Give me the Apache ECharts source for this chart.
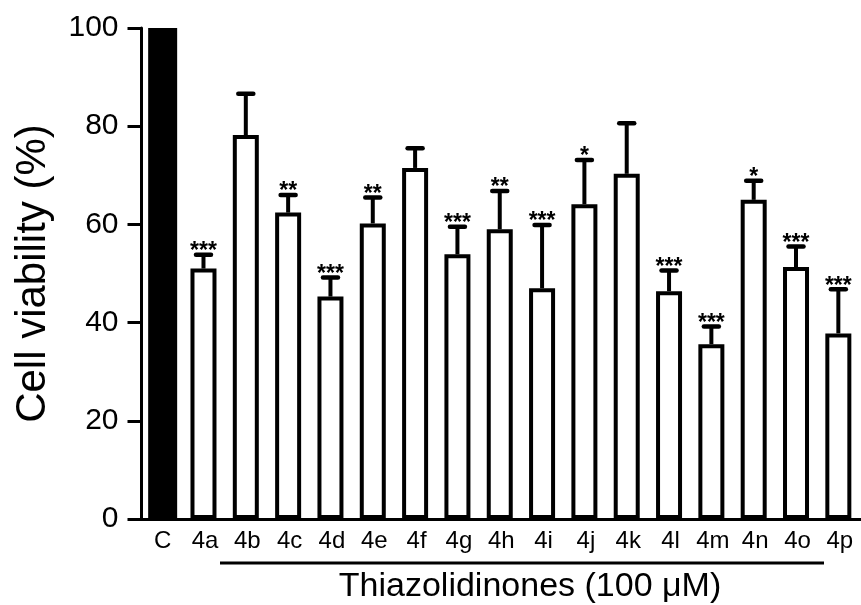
<!DOCTYPE html>
<html>
<head>
<meta charset="utf-8">
<script src="https://cdn.jsdelivr.net/npm/echarts@6/dist/echarts.min.js"></script>
<style>
  html, body { margin: 0; padding: 0; background: #fff; }
  #main { width: 861px; height: 605px; }
</style>
</head>
<body>
<div id="main"></div>
<script>
var categories = ['C', '4a', '4b', '4c', '4d', '4e', '4f', '4g', '4h', '4i', '4j', '4k', '4l', '4m', '4n', '4o', '4p'];
var viability = [100, 51.0, 78.2, 62.4, 45.3, 60.2, 71.5, 53.9, 59.0, 47.0, 64.1, 70.3, 46.4, 35.6, 65.0, 51.3, 37.8];
var errors = [0, 2.8, 8.4, 3.6, 3.9, 5.3, 4.0, 5.6, 7.8, 12.9, 9.0, 10.3, 4.2, 3.6, 3.9, 4.2, 9.0];
var stars = ['', '***', '', '**', '***', '**', '', '***', '**', '***', '*', '', '***', '***', '*', '***', '***'];

var font = 'Liberation Sans, Arial, sans-serif';

var chart = echarts.init(document.getElementById('main'), null, { renderer: 'canvas' });

// control (C) drawn as its own solid black series, compounds as open bars
var controlData = viability.map(function (v, i) { return i === 0 ? v : '-'; });
var compoundData = viability.map(function (v, i) { return i === 0 ? '-' : v; });

var errData = viability.map(function (v, i) {
  return [i, v, v + errors[i]];
});

var option = {
  animation: false,
  backgroundColor: '#fff',
  grid: {
    left: 141.5,
    top: 28,
    width: 726,
    bottom: 86
  },
  xAxis: {
    type: 'category',
    data: categories,
    axisLine: { lineStyle: { color: '#000', width: 3 } },
    axisTick: { show: false },
    axisLabel: {
      color: '#000',
      fontFamily: font,
      fontSize: 24,
      margin: 10,
      interval: 0
    }
  },
  yAxis: {
    type: 'value',
    min: 0,
    max: 100,
    interval: 20,
    name: 'Cell viability (%)',
    nameLocation: 'middle',
    nameRotate: 90,
    nameGap: 87,
    nameTextStyle: { color: '#000', fontFamily: font, fontSize: 42 },
    axisLine: { show: true, lineStyle: { color: '#000', width: 3 } },
    axisTick: { show: true, length: 14, lineStyle: { color: '#000', width: 3 } },
    axisLabel: {
      color: '#000',
      fontFamily: font,
      fontSize: 30,
      margin: 23
    },
    splitLine: { show: false }
  },
  graphic: [
    {
      type: 'line',
      shape: { x1: 220, y1: 563, x2: 824, y2: 563 },
      style: { stroke: '#000', lineWidth: 3 }
    },
    {
      type: 'text',
      x: 530,
      y: 587,
      style: {
        text: 'Thiazolidinones (100 μM)',
        fill: '#000',
        font: '34px ' + font,
        align: 'center',
        verticalAlign: 'middle'
      }
    }
  ],
  series: [
    {
      type: 'bar',
      name: 'compounds',
      data: compoundData,
      barWidth: 26,
      barGap: '-100%',
      itemStyle: {
        color: '#fff',
        borderColor: '#000',
        borderWidth: 4
      }
    },
    {
      type: 'bar',
      name: 'control',
      data: controlData,
      barWidth: 29,
      barGap: '-100%',
      itemStyle: { color: '#000' }
    },
    {
      type: 'custom',
      data: errData,
      z: 3,
      renderItem: function (params, api) {
        var i = params.dataIndex;
        var top = api.coord([api.value(0), api.value(1)]);
        var cap = api.coord([api.value(0), api.value(2)]);
        var x = top[0] - 1.5;
        var children = [];
        if (errors[i] > 0) {
          children.push({
            type: 'line',
            shape: { x1: x, y1: top[1], x2: x, y2: cap[1] },
            style: { stroke: '#000', lineWidth: 4 }
          });
          children.push({
            type: 'line',
            shape: { x1: x - 7.5, y1: cap[1], x2: x + 7.5, y2: cap[1] },
            style: { stroke: '#000', lineWidth: 4.5, lineCap: 'round' }
          });
        }
        if (stars[i]) {
          children.push({
            type: 'text',
            x: x,
            y: cap[1] - 3,
            style: {
              text: stars[i],
              fill: '#000',
              font: 'bold 23px ' + font,
              align: 'center',
              verticalAlign: 'middle'
            }
          });
        }
        return { type: 'group', children: children };
      }
    }
  ]
};

chart.setOption(option);
</script>
</body>
</html>
